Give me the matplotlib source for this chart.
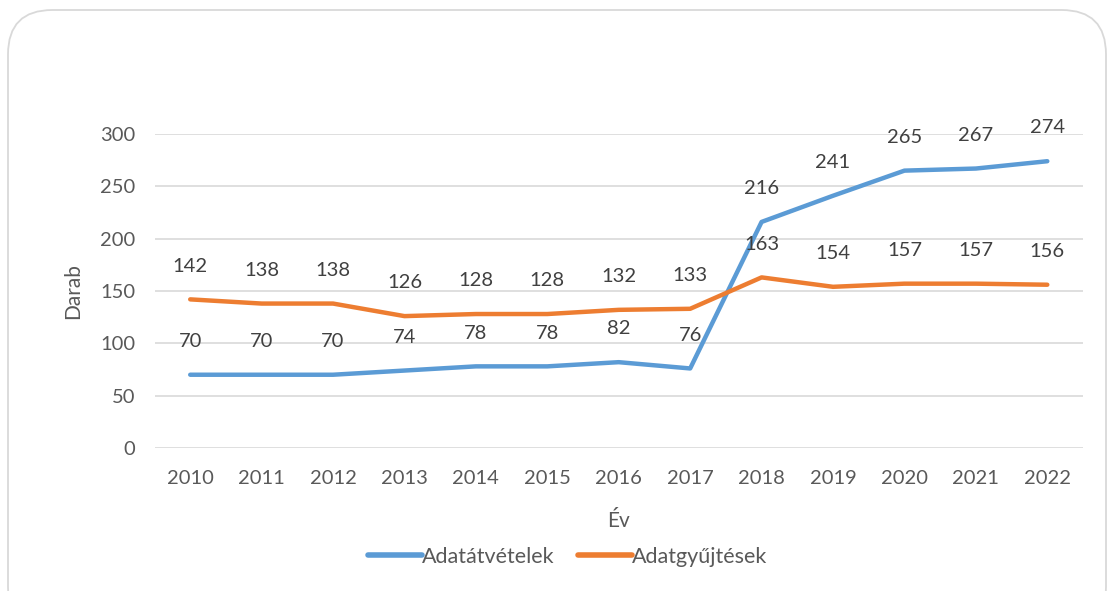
import matplotlib.pyplot as plt
from matplotlib.patches import FancyBboxPatch

plt.rcParams['font.family'] = ['Lato', 'DejaVu Sans']

# adatok
years = ['2010', '2011', '2012', '2013', '2014', '2015', '2016',
         '2017', '2018', '2019', '2020', '2021', '2022']
atvetelek = [70, 70, 70, 74, 78, 78, 82, 76, 216, 241, 265, 267, 274]
gyujtesek = [142, 138, 138, 126, 128, 128, 132, 133, 163, 154, 157, 157, 156]

blue = '#5B9BD5'
orange = '#ED7D31'
tick_col = '#595959'
lab_col = '#404040'

fig = plt.figure(figsize=(11.1, 5.91), dpi=100)

# lekerekitett keret (alul kilog a kepbol)
frame = FancyBboxPatch((8 / 1110, -40 / 591), 1098 / 1110, 621 / 591,
                       boxstyle='round,pad=0,rounding_size=0.04',
                       transform=fig.transFigure, facecolor='white',
                       edgecolor='#D9D9D9', linewidth=1.3,
                       mutation_aspect=1110 / 591, zorder=-10)
fig.patches.append(frame)

ax = fig.add_axes([154.5 / 1110, 1 - 448 / 591, 928.5 / 1110, 314 / 591])
ax.set_facecolor('none')
ax.set_zorder(5)

x = list(range(len(years)))
ax.plot(x, atvetelek, color=blue, lw=3.2, solid_capstyle='round',
        label='Adatátvételek', zorder=3)
ax.plot(x, gyujtesek, color=orange, lw=3.2, solid_capstyle='round',
        label='Adatgyűjtések', zorder=3)

for xi, v in zip(x, atvetelek):
    ax.annotate(str(v), (xi, v), xytext=(0, 24), textcoords='offset points',
                ha='center', va='center', fontsize=14.5, color=lab_col)
for xi, v in zip(x, gyujtesek):
    ax.annotate(str(v), (xi, v), xytext=(0, 24), textcoords='offset points',
                ha='center', va='center', fontsize=14.5, color=lab_col)

ax.set_xlim(-0.5, len(years) - 0.5)
ax.set_ylim(0, 300)
ax.set_yticks(range(0, 301, 50))
ax.set_xticks(x)
ax.set_xticklabels(years)
ax.grid(axis='y', color='#D9D9D9', lw=1.2, zorder=0)
for s in ax.spines.values():
    s.set_visible(False)
ax.tick_params(length=0, labelsize=14.5, colors=tick_col)
ax.tick_params(axis='x', pad=16)
ax.tick_params(axis='y', pad=14)

ax.set_xlabel('Év', fontsize=15, color=tick_col, labelpad=17)
ax.set_ylabel('Darab', fontsize=15, color=tick_col, labelpad=12)

leg = ax.legend(loc='center', bbox_to_anchor=(0.445, (448 - 557) / 314),
                ncol=2, frameon=False, fontsize=15.5, handlelength=2.5,
                handletextpad=0.0, columnspacing=1.1)
for t in leg.get_texts():
    t.set_color(tick_col)
for h in leg.get_lines():
    h.set_linewidth(4)

fig.savefig('out.png', dpi=100)
